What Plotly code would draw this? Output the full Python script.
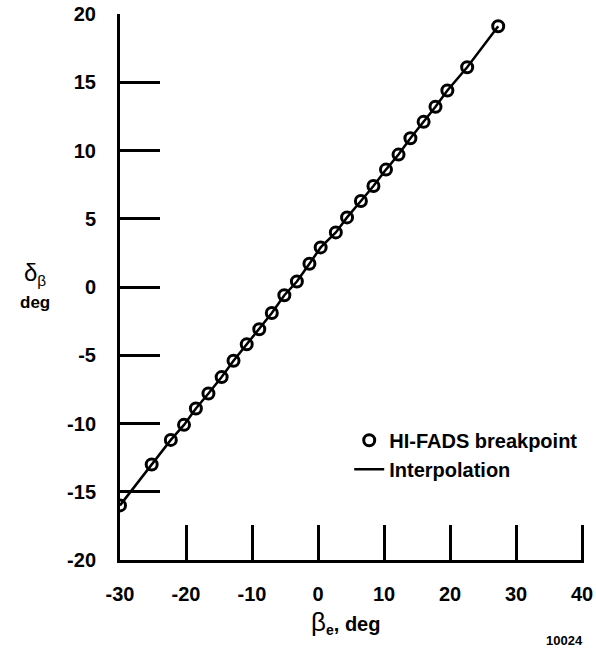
import plotly.graph_objects as go

# HI-FADS breakpoints
beta_e = [-30.0, -25.2, -22.3, -20.3, -18.5, -16.6, -14.6, -12.8, -10.8, -8.9,
          -7.0, -5.1, -3.2, -1.3, 0.4, 2.7, 4.4, 6.5, 8.4, 10.3,
          12.2, 14.0, 16.0, 17.8, 19.6, 22.6, 27.3]
delta_beta = [-16.0, -13.0, -11.2, -10.1, -8.9, -7.8, -6.6, -5.4, -4.2, -3.1,
              -1.9, -0.6, 0.4, 1.7, 2.9, 4.0, 5.1, 6.3, 7.4, 8.6,
              9.7, 10.9, 12.1, 13.2, 14.4, 16.1, 19.1]

x_ticks = [-30, -20, -10, 0, 10, 20, 30, 40]
x_labels = ['-30', '-20', '-10', '0', '10', '20', '30', '40']
y_ticks = [-20, -15, -10, -5, 0, 5, 10, 15, 20]
y_labels = ['-20', '-15', '-10', '-5', '0', '5', '10', '15', '20']

FAMILY = 'Liberation Sans, Arial, sans-serif'
font = dict(family=FAMILY, size=20, color='black', weight=700)

fig = go.Figure()

fig.add_trace(go.Scatter(
    x=beta_e, y=delta_beta, mode='markers', name='HI-FADS breakpoint',
    marker=dict(symbol='circle-open', size=11, color='black', line=dict(width=3)),
))
fig.add_trace(go.Scatter(
    x=beta_e, y=delta_beta, mode='lines', name='Interpolation',
    line=dict(color='black', width=2.5),
))

fig.update_layout(
    width=596, height=652,
    margin=dict(l=120, r=12, t=14, b=92, autoexpand=False),
    paper_bgcolor='white', plot_bgcolor='white',
    font=font,
    showlegend=True,
    legend=dict(x=0.494, y=0.255, xanchor='left', yanchor='top',
                bgcolor='rgba(0,0,0,0)', font=font, tracegroupgap=0,
                itemwidth=30),
)

# range padded a little so the end tick at 40 is not clipped away
fig.update_xaxes(
    range=[-30, 40.3], tickvals=x_ticks, ticktext=x_labels, showgrid=False, zeroline=False,
    showline=True, linecolor='black', linewidth=3, automargin=False,
    ticks='inside', ticklen=35, tickwidth=3, tickcolor='black',
    ticklabelstandoff=14, ticklabeloverflow='allow', tickfont=font,
)
fig.update_yaxes(
    range=[-20, 20], tickvals=y_ticks, ticktext=y_labels, showgrid=False, zeroline=False,
    showline=True, linecolor='black', linewidth=3, automargin=False,
    ticks='inside', ticklen=40, tickwidth=3, tickcolor='black',
    ticklabelstandoff=17, ticklabeloverflow='allow', tickfont=font,
)

# axis titles
fig.add_annotation(
    xref='paper', yref='paper', x=0.487, y=-0.114, xanchor='center', yanchor='middle',
    showarrow=False,
    text='<span style="font-weight:400;font-size:26px">β</span><sub>e</sub>, deg',
    font=dict(family=FAMILY, size=20, color='black', weight=700),
)
fig.add_annotation(
    xref='paper', yref='paper', x=-0.184, y=0.524, xanchor='center', yanchor='middle',
    showarrow=False,
    text='<span style="font-size:24px">δ</span><sub>β</sub>',
    font=dict(family=FAMILY, size=22, color='black', weight=400),
)
fig.add_annotation(
    xref='paper', yref='paper', x=-0.184, y=0.472, xanchor='center', yanchor='middle',
    showarrow=False, text='deg',
    font=dict(family=FAMILY, size=17, color='black', weight=700),
)
fig.add_annotation(
    xref='paper', yref='paper', x=0.957, y=-0.148, xanchor='center', yanchor='middle',
    showarrow=False, text='10024',
    font=dict(family=FAMILY, size=13, color='black', weight=700),
)

# drop the default body margin so the figure sits flush in the window
fig.write_html('out.html', config={'displayModeBar': False},
               post_script="document.body.style.margin='0';"
                           "document.body.style.overflow='hidden';")
